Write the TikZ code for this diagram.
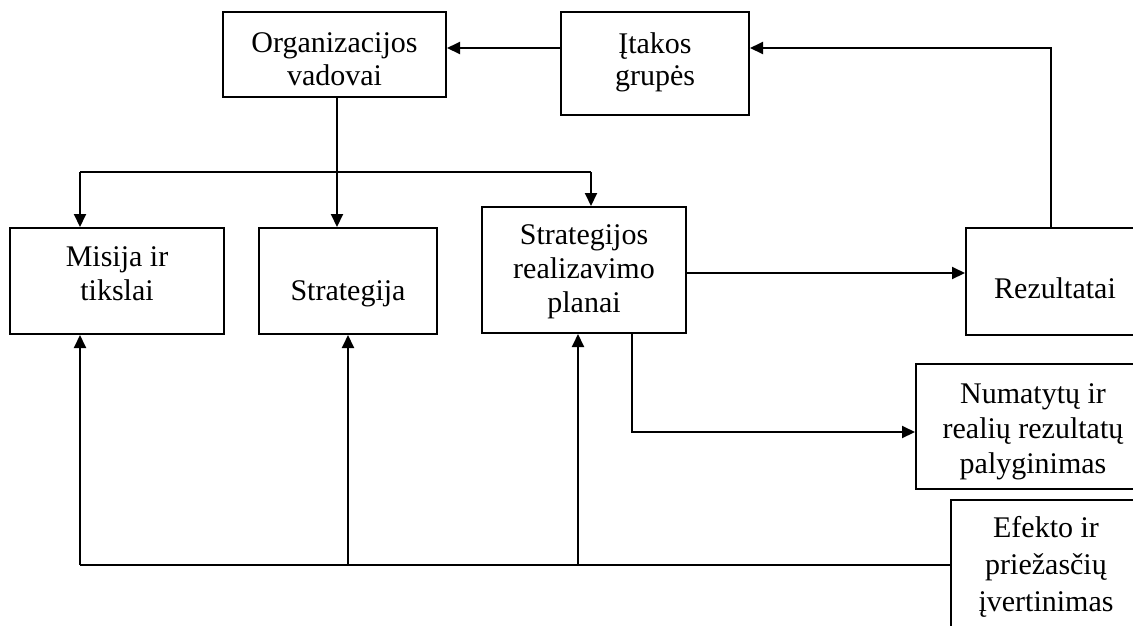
\documentclass[tikz,border=0pt]{standalone}
\usepackage{fontspec}
\setmainfont{Liberation Serif}
\usetikzlibrary{arrows.meta}
\begin{document}
\begin{tikzpicture}[x=1pt,y=-1pt,
  box/.style={draw,line width=2pt,align=center,inner sep=0pt,font=\fontsize{30}{34}\selectfont},
  bs/.style={font=\fontsize{30}{#1}\selectfont},
  bl/.style={text height=2*#1,text depth=0pt},
  arr/.style={line width=2pt,-{Triangle[length=13pt,width=12pt]}},
  ln/.style={line width=2pt}]
\useasboundingbox (0,0) rectangle (1133,625);
\clip (0,0) rectangle (1133,625);
\fill[white] (0,0) rectangle (1133,625);
\node[box,bs=33pt,bl=31pt,minimum width=223pt,minimum height=85pt] (org) at (334.5,54.5) {Organizacijos\\vadovai};
\node[box,bs=32pt,bl=21.5pt,minimum width=188pt,minimum height=103pt] (itakos) at (655,63.5) {Įtakos\\grupės};
\node[box,bs=34pt,bl=19.5pt,minimum width=214pt,minimum height=106pt] (misija) at (117,281) {Misija ir\\tikslai};
\node[box,bl=19pt,minimum width=178pt,minimum height=106pt] (strat) at (348,281) {Strategija};
\node[box,bs=34pt,bl=42pt,minimum width=204pt,minimum height=126pt] (planai) at (584,270) {Strategijos\\realizavimo\\planai};
\node[box,bl=17pt,minimum width=178pt,minimum height=107pt] (rez) at (1055,281.5) {Rezultatai};
\node[box,bs=35pt,bl=46.5pt,minimum width=234pt,minimum height=125pt] (num) at (1033,426.5) {Numatytų ir\\realių rezultatų\\palyginimas};
\node[box,bs=37pt,bl=44pt,minimum width=190pt,minimum height=134pt] (efekto) at (1046,567) {Efekto ir\\priežasčių\\įvertinimas};
% top connections
\draw[arr] (itakos.west |- 0,48) -- (org.east |- 0,48);
\draw[arr] ([xshift=-4pt]rez.north) |- (itakos.east |- 0,48);
% distribution from org
\coordinate (bl) at (80,172);
\coordinate (br) at (591,172);
\draw[ln] (bl) -- (br);
\draw[arr] ([xshift=2.5pt]org.south) -- ([xshift=2.5pt]org.south |- strat.north);
\draw[arr] (bl) -- (bl |- misija.north);
\draw[arr] (br) -- (br |- planai.north);
% planai to rezultatai and numatytu
\draw[arr] (planai.east |- 0,273) -- (rez.west |- 0,273);
\draw[arr] (planai.south -| 632,0) |- (num.west |- 0,432);
% feedback from efekto
\coordinate (bb) at (80,565);
\draw[ln] (efekto.west |- bb) -- (bb);
\draw[arr] (bb) -- (bb |- misija.south);
\draw[arr] (strat.south |- bb) -- (strat.south);
\draw[arr] ([xshift=-6pt]planai.south |- bb) -- ([xshift=-6pt]planai.south);
\end{tikzpicture}
\end{document}
